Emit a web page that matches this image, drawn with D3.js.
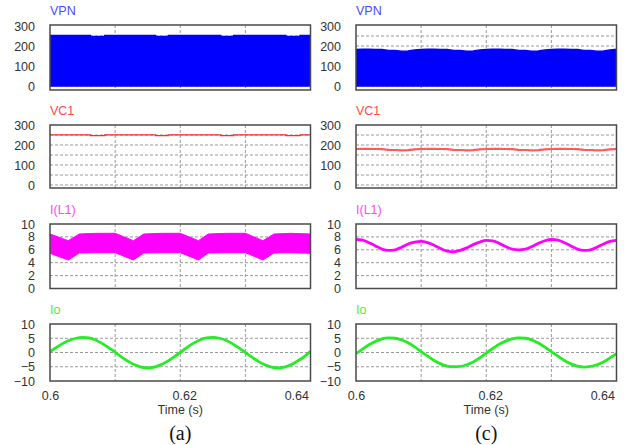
<!DOCTYPE html>
<html><head><meta charset="utf-8">
<script src="https://cdn.jsdelivr.net/npm/d3@7"></script>
<style>body{margin:0;background:#fff}svg{display:block}</style></head>
<body><svg id="c" width="627" height="445"></svg>
<script>
// ---------- data ----------
const seriesNames = ["VPN", "VC1", "I(L1)", "Io"];
const panelTags = ["(a)", "(c)"];
const xTicks = [0.6, 0.62, 0.64];
const xGrid = [0.61, 0.62, 0.63];
const yTicksV = [0, 100, 200, 300];
const yGridV = [0, 50, 100, 150, 200, 250];
const yTicksI = [0, 2, 4, 6, 8, 10];
const yGridI = [2, 4, 6, 8];
const yTicksIo = [-10, -5, 0, 5, 10];
const yGridIo = [-5, 0, 5];

const sampleTime = [0.600,0.601,0.602,0.603,0.604,0.605,0.606,0.607,0.608,0.609,
  0.610,0.611,0.612,0.613,0.614,0.615,0.616,0.617,0.618,0.619,
  0.620,0.621,0.622,0.623,0.624,0.625,0.626,0.627,0.628,0.629,
  0.630,0.631,0.632,0.633,0.634,0.635,0.636,0.637,0.638,0.639,0.640];

// (a) VPN envelope top (PWM band from 0)
const vpnA_time = [0.600,0.6062,0.6084,0.6162,0.6182,0.6262,0.6282,0.6362,0.6384,0.640];
const vpnA_top  = [252,247,252,247,252,247,252,247,252,252];
// (a) VC1
const vc1A_time = [0.600,0.6062,0.6084,0.6162,0.6182,0.6262,0.6282,0.6362,0.6384,0.640];
const vc1A      = [251,247,251,247,251,247,251,247,251,251];
// (a) I(L1) band
const il1A_time  = [0.600,0.6028,0.6045,0.607,0.610,0.6128,0.6144,0.617,0.620,0.6228,0.6243,0.627,0.630,0.6327,0.6344,0.637,0.640];
const il1A_upper = [8.45,7.42,8.45,8.55,8.56,7.42,8.45,8.55,8.56,7.42,8.45,8.55,8.56,7.42,8.45,8.55,8.45];
const il1A_lower = [5.45,4.42,5.5,5.55,5.55,4.42,5.5,5.55,5.55,4.42,5.5,5.55,5.55,4.42,5.5,5.55,5.45];
// (a) Io
const ioA = [0.3,1.8,3.2,4.3,5.0,5.3,5.1,4.4,3.2,1.7,0.1,-1.6,-3.1,-4.3,-5.1,-5.4,-5.1,-4.3,-3.1,-1.6,
  0.0,1.7,3.2,4.4,5.1,5.3,5.0,4.3,3.1,1.6,0.0,-1.6,-3.1,-4.3,-5.1,-5.4,-5.1,-4.3,-3.0,-1.5,0.4];

// (c) VPN envelope top
const vpnC_top = [183,184,184,183,182,178,177,174,175,180,
  183,184,184,183,182,178,177,174,175,180,
  183,184,184,183,182,178,177,174,175,180,
  183,184,184,183,182,178,177,174,175,180,183];
// (c) VC1
const vc1C = [180,181,181,180,179,176,175,173,174,178,
  180,181,181,180,179,176,175,173,174,178,
  180,181,181,180,179,176,175,173,174,178,
  180,181,181,180,179,176,175,173,174,178,180];
// (c) I(L1)
const il1C = [7.6,7.5,7.1,6.6,6.1,5.9,6.0,6.4,6.9,7.2,
  7.3,7.1,6.7,6.2,5.8,5.7,5.9,6.3,6.8,7.2,
  7.45,7.4,7.0,6.5,6.1,6.0,6.1,6.5,7.0,7.4,
  7.6,7.5,7.1,6.6,6.1,5.9,6.0,6.4,6.9,7.3,7.45];
// (c) Io
const ioC = [-0.4,1.2,2.7,3.9,4.8,5.1,5.0,4.4,3.4,2.0,0.3,-1.3,-2.8,-4.0,-4.8,-5.0,-4.9,-4.3,-3.3,-1.9,
  -0.2,1.4,2.9,4.0,4.8,5.1,5.0,4.4,3.3,1.9,0.3,-1.3,-2.8,-4.0,-4.8,-5.1,-4.9,-4.3,-3.3,-1.9,-0.4];

// ---------- layout ----------
const colX = [50, 356];
const panelW = 260.5;
const rows = [
  {top: 25,  bottom: 90,    domain: [-20, 305], ticks: yTicksV,  grid: yGridV,  color: "#0000ff", label: "#4a4aff"},
  {top: 125, bottom: 188,   domain: [-15, 300], ticks: yTicksV,  grid: yGridV,  color: "#ff2a2a", label: "#ff4a4a"},
  {top: 224, bottom: 288.5, domain: [0, 10],    ticks: yTicksI,  grid: yGridI,  color: "#ff00ff", label: "#ff44ff"},
  {top: 324, bottom: 381,   domain: [-10, 10],  ticks: yTicksIo, grid: yGridIo, color: "#22ee22", label: "#44ee44"}
];

const svg = d3.select("#c");
const font = "'Liberation Sans', Arial, sans-serif";

colX.forEach((cx, ci) => {
  const x = d3.scaleLinear().domain([0.6, 0.64]).range([cx, cx + panelW]);
  rows.forEach((r, ri) => {
    const y = d3.scaleLinear().domain(r.domain).range([r.bottom, r.top]);
    const g = svg.append("g");
    const clipId = `clip${ci}${ri}`;
    svg.append("clipPath").attr("id", clipId).append("rect")
      .attr("x", cx).attr("y", r.top).attr("width", panelW).attr("height", r.bottom - r.top);

    // gridlines
    g.selectAll(".hg").data(r.grid).enter().append("line")
      .attr("x1", cx).attr("x2", cx + panelW)
      .attr("y1", d => y(d)).attr("y2", d => y(d))
      .attr("stroke", "#9a9a9a").attr("stroke-width", 1).attr("stroke-dasharray", "3,2");
    g.selectAll(".vg").data(xGrid).enter().append("line")
      .attr("x1", d => x(d)).attr("x2", d => x(d))
      .attr("y1", r.top).attr("y2", r.bottom)
      .attr("stroke", "#9a9a9a").attr("stroke-width", 1).attr("stroke-dasharray", "3,2");

    const dg = g.append("g").attr("clip-path", `url(#${clipId})`);

    if (ri === 0) {
      let times, tops, curve;
      if (ci === 0) { times = vpnA_time; tops = vpnA_top; curve = d3.curveStepAfter; }
      else { times = sampleTime; tops = vpnC_top; curve = d3.curveLinear; }
      const pts = times.map((t, i) => [t, tops[i]]);
      dg.append("path").datum(pts)
        .attr("d", d3.area().curve(curve).x(d => x(d[0])).y0(y(0)).y1(d => y(d[1])))
        .attr("fill", r.color).attr("stroke", r.color).attr("stroke-width", 1.5);
    } else if (ri === 1) {
      let pts, curve, w, col;
      if (ci === 0) { pts = vc1A_time.map((t, i) => [t, vc1A[i]]); curve = d3.curveStepAfter; w = 1.3; col = "#ff2a2a"; }
      else { pts = sampleTime.map((t, i) => [t, vc1C[i]]); curve = d3.curveLinear; w = 2.2; col = "#ff5a5a"; }
      dg.append("path").datum(pts)
        .attr("d", d3.line().curve(curve).x(d => x(d[0])).y(d => y(d[1])))
        .attr("fill", "none").attr("stroke", col).attr("stroke-width", w);
    } else if (ri === 2) {
      if (ci === 0) {
        const pts = il1A_time.map((t, i) => [t, il1A_lower[i], il1A_upper[i]]);
        dg.append("path").datum(pts)
          .attr("d", d3.area().x(d => x(d[0])).y0(d => y(d[1])).y1(d => y(d[2])))
          .attr("fill", r.color).attr("stroke", r.color).attr("stroke-width", 1);
      } else {
        const pts = sampleTime.map((t, i) => [t, il1C[i]]);
        dg.append("path").datum(pts)
          .attr("d", d3.line().curve(d3.curveMonotoneX).x(d => x(d[0])).y(d => y(d[1])))
          .attr("fill", "none").attr("stroke", r.color).attr("stroke-width", 2.8);
      }
    } else {
      const vals = ci === 0 ? ioA : ioC;
      const pts = sampleTime.map((t, i) => [t, vals[i]]);
      dg.append("path").datum(pts)
        .attr("d", d3.line().curve(d3.curveMonotoneX).x(d => x(d[0])).y(d => y(d[1])))
        .attr("fill", "none").attr("stroke", r.color).attr("stroke-width", 2.8);
    }

    // frame
    g.append("rect").attr("x", cx).attr("y", r.top).attr("width", panelW).attr("height", r.bottom - r.top)
      .attr("fill", "none").attr("stroke", "#4a4a4a").attr("stroke-width", 1.5);

    // y axis labels
    const ya = g.append("g").attr("transform", `translate(${cx},0)`)
      .call(d3.axisLeft(y).tickValues(r.ticks).tickSize(0).tickPadding(15).tickFormat(d3.format("d")));
    ya.select(".domain").remove();
    ya.selectAll("text").attr("font-family", font).attr("font-size", 12.5).attr("fill", "#333");

    // series title
    g.append("text").attr("x", cx).attr("y", r.top - 10)
      .attr("font-family", font).attr("font-size", 12.5).attr("fill", r.label)
      .text(seriesNames[ri]);

    // x axis on bottom row
    if (ri === rows.length - 1) {
      const xa = g.append("g").attr("transform", `translate(0,${r.bottom})`)
        .call(d3.axisBottom(x).tickValues(xTicks).tickSize(0).tickPadding(10).tickFormat(d => String(d)));
      xa.select(".domain").remove();
      xa.selectAll("text").attr("font-family", font).attr("font-size", 12.5).attr("fill", "#333");
      xa.selectAll(".tick").filter(d => d === 0.64).select("text").attr("text-anchor", "end").attr("dx", -2);
      xa.selectAll(".tick").filter(d => d === 0.62).select("text").attr("dx", 4);
      g.append("text").attr("x", x(0.62)).attr("y", r.bottom + 33)
        .attr("text-anchor", "middle").attr("font-family", font).attr("font-size", 12.5).attr("fill", "#333")
        .text("Time (s)");
      g.append("text").attr("x", x(0.62)).attr("y", r.bottom + 59)
        .attr("text-anchor", "middle").attr("font-family", "'Liberation Serif', 'Times New Roman', serif")
        .attr("font-size", 20).attr("fill", "#111")
        .text(panelTags[ci]);
    }
  });
});
</script>
</body></html>
